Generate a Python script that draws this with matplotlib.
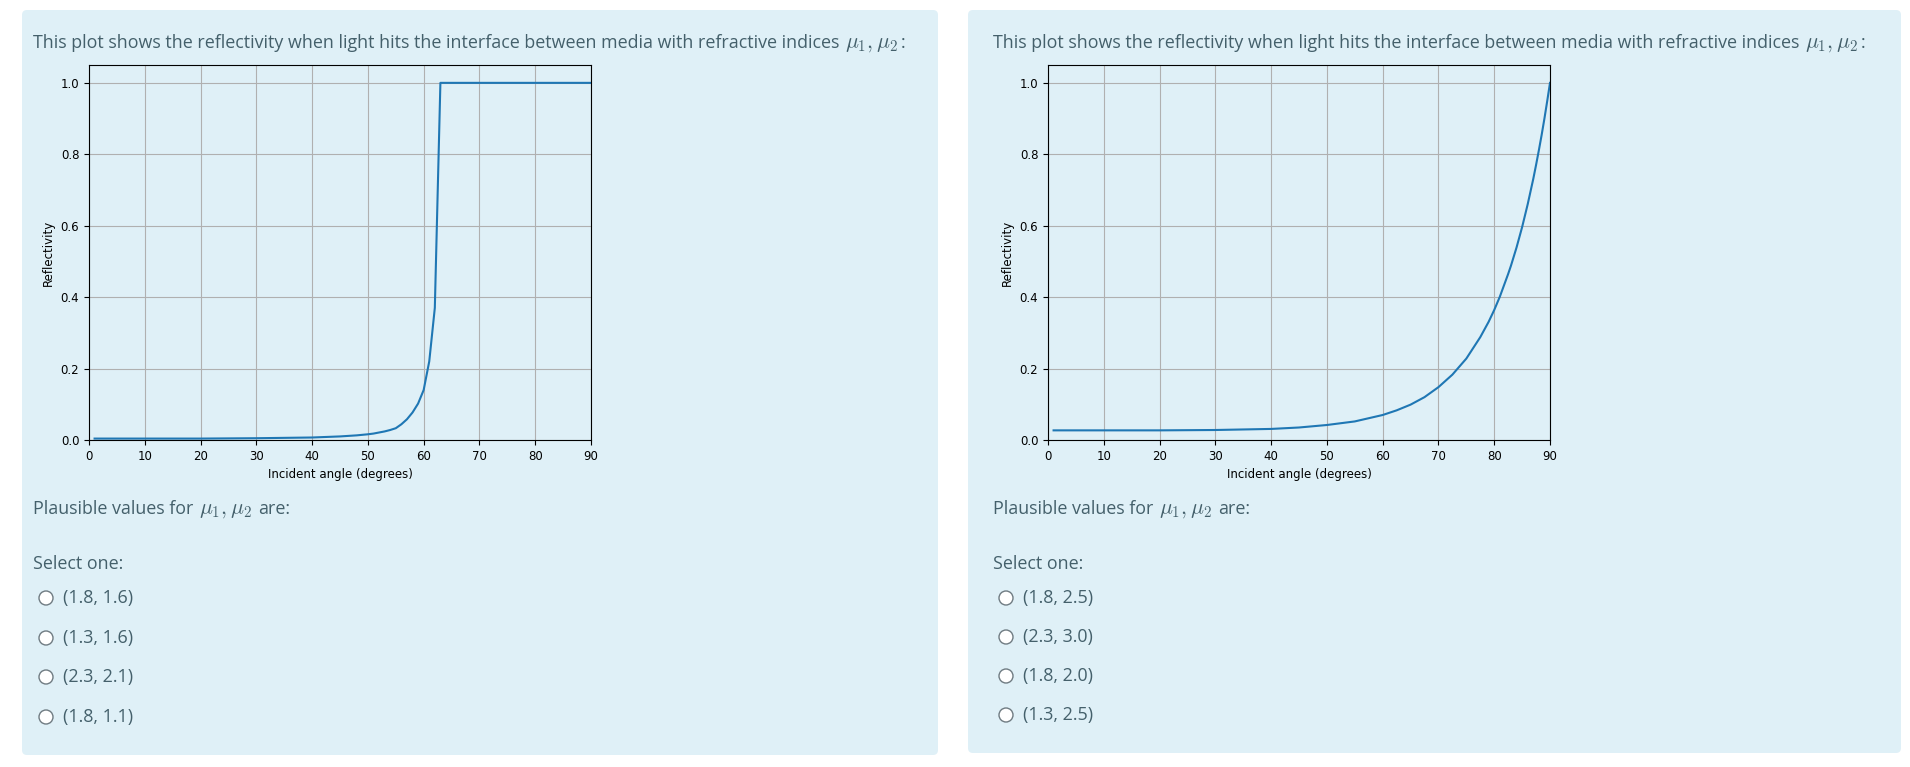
import matplotlib.pyplot as plt
from matplotlib.patches import FancyBboxPatch, Ellipse

# === DATA ===
angles_left = [1, 10, 20, 30, 35, 40, 45, 46, 47, 48, 49, 50, 51, 52, 53, 54, 55, 56, 57, 58,
               59, 60, 61, 62, 63, 90]
refl_left = [0.004, 0.004, 0.004, 0.005, 0.006, 0.007, 0.010, 0.011, 0.012, 0.013, 0.0145,
             0.016, 0.018, 0.021, 0.024, 0.028, 0.033, 0.044, 0.058, 0.077, 0.102, 0.14,
             0.22, 0.37, 1.0, 1.0]

angles_right = [1, 10, 20, 30, 40, 45, 50, 55, 60, 62.5, 65, 67.5, 70, 72.5, 75, 77.5,
                79, 80, 81, 82.5, 83, 84, 85, 86, 87, 87.5, 88, 88.5, 89, 89.5, 90]
refl_right = [0.027, 0.027, 0.027, 0.028, 0.031, 0.035, 0.042, 0.052, 0.070, 0.083, 0.099,
              0.120, 0.148, 0.183, 0.228, 0.288, 0.331, 0.364, 0.401, 0.465, 0.488, 0.539,
              0.596, 0.660, 0.731, 0.770, 0.811, 0.854, 0.900, 0.949, 1.0]

x_ticks = [0, 10, 20, 30, 40, 50, 60, 70, 80, 90]
y_ticks = [0.0, 0.2, 0.4, 0.6, 0.8, 1.0]

question = ["This plot shows the reflectivity when light hits the interface between media with refractive indices",
            r"$\mu_1, \mu_2$", ":"]
prompt = ["Plausible values for", r"$\mu_1, \mu_2$", "are:"]
select_text = "Select one:"
options_left = ["(1.8, 1.6)", "(1.3, 1.6)", "(2.3, 2.1)", "(1.8, 1.1)"]
options_right = ["(1.8, 2.5)", "(2.3, 3.0)", "(1.8, 2.0)", "(1.3, 2.5)"]

# === STYLE ===
W, H = 1910, 767
panel_color = '#dff0f7'
text_color = '#44606b'
text_font = 'Open Sans'
text_size = 12.9
math_size = 15.5
plt.rcParams['mathtext.fontset'] = 'cm'

fig = plt.figure(figsize=(W / 100, H / 100), dpi=100)
fig.patch.set_facecolor('white')
renderer = fig.canvas.get_renderer()


def fx(px):
    return px / W


def fy(py):
    return 1 - py / H


def draw_panel(x0, x1, y0, y1):
    # rounded light-blue box, given in pixels from top-left
    box = FancyBboxPatch((x0 / 100, (H - y1) / 100), (x1 - x0) / 100, (y1 - y0) / 100,
                         boxstyle="round,pad=0,rounding_size=0.05",
                         transform=fig.dpi_scale_trans, facecolor=panel_color,
                         edgecolor='none', zorder=0)
    fig.add_artist(box)


def draw_line(x, y, parts, gaps):
    # text with a bigger inline math part, pieces placed one after another on a baseline
    for part, gap in zip(parts, gaps):
        size = math_size if part.startswith('$') else text_size
        t = fig.text(fx(x), fy(y), part, fontsize=size, family=text_font,
                     color=text_color, va='baseline', ha='left')
        x = t.get_window_extent(renderer).x1 + gap


def draw_question(x_text, x_circle, x_opt, opt_rows, options, ax_left, angles, refl):
    draw_line(x_text, 48, question, [6, 2, 0])

    ax = fig.add_axes([fx(ax_left), fy(440), fx(502), 375 / H])
    ax.patch.set_alpha(0)
    ax.plot(angles, refl, color='#1f77b4', linewidth=1.5)
    ax.set_xlim(0, 90)
    ax.set_ylim(0, 1.05)
    ax.set_xticks(x_ticks)
    ax.set_yticks(y_ticks)
    ax.tick_params(labelsize=8.5)
    ax.set_xlabel("Incident angle (degrees)", fontsize=8.5)
    ax.set_ylabel("Reflectivity", fontsize=8.5)
    ax.grid(True, color='#b0b0b0', linewidth=0.8)
    ax.set_axisbelow(True)

    draw_line(x_text, 514, prompt, [6, 5, 0])
    fig.text(fx(x_text), fy(564), select_text, fontsize=text_size, family=text_font,
             color=text_color, va='center', ha='left')
    for row, opt in zip(opt_rows, options):
        circ = Ellipse((fx(x_circle), fy(row)), 14 / W, 14 / H, facecolor='white',
                       edgecolor='#6f7b82', linewidth=1.0, transform=fig.transFigure)
        fig.add_artist(circ)
        fig.text(fx(x_opt), fy(row), opt, fontsize=text_size, family=text_font,
                 color=text_color, va='center', ha='left')


draw_panel(22, 938, 10, 755)
draw_panel(968, 1901, 10, 753)

draw_question(33, 46, 63, [598, 638, 677, 717], options_left, 89, angles_left, refl_left)
draw_question(993, 1006, 1023, [598, 637, 676, 715], options_right, 1048, angles_right, refl_right)

fig.savefig("out.png", dpi=100, facecolor='white')
